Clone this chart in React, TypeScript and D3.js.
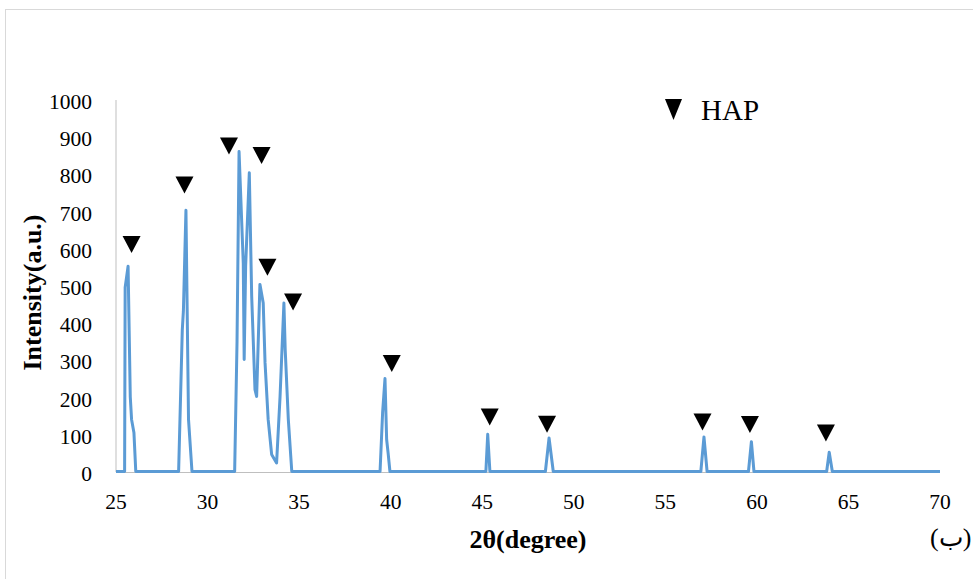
import React from "react";
import * as d3 from "d3";

// XRD pattern, 2θ in degrees
const twoTheta = [
  25.0, 25.47, 25.5, 25.66, 25.78, 25.85, 25.98, 26.08,
  28.42, 28.62, 28.68, 28.82, 28.96, 29.15,
  31.48, 31.61, 31.72, 31.95, 32.0, 32.08, 32.28, 32.41, 32.59, 32.68,
  32.86, 33.04, 33.14, 33.31, 33.5, 33.77, 33.96, 34.17, 34.24, 34.41, 34.6,
  39.42, 39.56, 39.69, 39.78, 39.86, 39.96,
  45.2, 45.3, 45.42,
  48.45, 48.65, 48.88,
  56.94, 57.11, 57.28,
  59.54, 59.7, 59.84,
  63.81, 63.95, 64.12,
  70.0,
];
const intensity = [
  0, 0, 495, 552, 200, 140, 104, 0,
  0, 380, 431, 702, 140, 0,
  0, 350, 860, 560, 301, 552, 803, 471, 220, 202,
  503, 453, 292, 140, 46, 23, 202, 453, 328, 140, 0,
  0, 158, 250, 86, 50, 0,
  0, 100, 0,
  0, 90, 0,
  0, 93, 0,
  0, 80, 0,
  0, 52, 0,
  0,
];

// HAP markers (▼)
const markerTheta = [25.85, 28.74, 31.17, 32.95, 33.27, 34.67, 40.06, 45.41, 48.54, 57.03, 59.62, 63.77];
const markerIntensity = [613, 773, 878, 852, 552, 458, 293, 149, 130, 136, 129, 106];

const xTicks = [25, 30, 35, 40, 45, 50, 55, 60, 65, 70];
const yTicks = [0, 100, 200, 300, 400, 500, 600, 700, 800, 900, 1000];

const serif = "'Liberation Serif', 'Times New Roman', serif";

export default function App() {
  const x = d3.scaleLinear().domain([25, 70]).range([116, 940]);
  const y = d3.scaleLinear().domain([0, 1000]).range([472, 100]);

  const points = twoTheta.map((t, i) => [t, intensity[i]] as [number, number]);
  const line = d3
    .line<[number, number]>()
    .x((d) => x(d[0]))
    .y((d) => y(d[1]) - 0.5);

  const tri = (cx: number, cy: number, w: number, top: number, bottom: number) =>
    `M${cx - w / 2},${cy - top}L${cx + w / 2},${cy - top}L${cx},${cy + bottom}Z`;

  return (
    <div style={{ position: "absolute", left: 0, top: 0 }}>
      <svg width={973} height={579} style={{ display: "block", background: "#fff" }}>
        <rect x={5.5} y={9.5} width={1000} height={600} fill="#fff" stroke="#d9d9d9" strokeWidth={1} />

        {/* axes */}
        <line x1={x(25)} x2={x(25)} y1={y(1000)} y2={y(0)} stroke="#bfbfbf" strokeWidth={1} />
        <line x1={x(25)} x2={x(70)} y1={y(0) + 0.5} y2={y(0) + 0.5} stroke="#bfbfbf" strokeWidth={1} />

        {yTicks.map((t) => (
          <text key={t} x={92} y={y(t) + 9} textAnchor="end" fontFamily={serif} fontSize={21.5} fill="#000">
            {t}
          </text>
        ))}
        {xTicks.map((t) => (
          <text key={t} x={x(t)} y={508.5} textAnchor="middle" fontFamily={serif} fontSize={21.5} fill="#000">
            {t}
          </text>
        ))}

        <path d={line(points) || ""} fill="none" stroke="#5b9bd5" strokeWidth={3} strokeLinejoin="round" />

        {markerTheta.map((t, i) => (
          <path key={i} d={tri(x(t), y(markerIntensity[i]), 18, 8, 9)} fill="#000" />
        ))}

        {/* legend */}
        <path d={tri(673.5, 109, 17, 10, 11)} fill="#000" />
        <text x={701} y={119.5} fontFamily={serif} fontSize={29} fill="#000">
          HAP
        </text>

        <text
          transform="translate(41,292.5) rotate(-90)"
          textAnchor="middle"
          fontFamily={serif}
          fontSize={26}
          fontWeight="bold"
          fill="#000"
        >
          Intensity(a.u.)
        </text>
        <text x={528} y={548} textAnchor="middle" fontFamily={serif} fontSize={26} fontWeight="bold" fill="#000">
          2θ(degree)
        </text>
        <text x={930} y={546} fontFamily={serif} fontSize={26} fill="#000">
          (ب)
        </text>
      </svg>
    </div>
  );
}
